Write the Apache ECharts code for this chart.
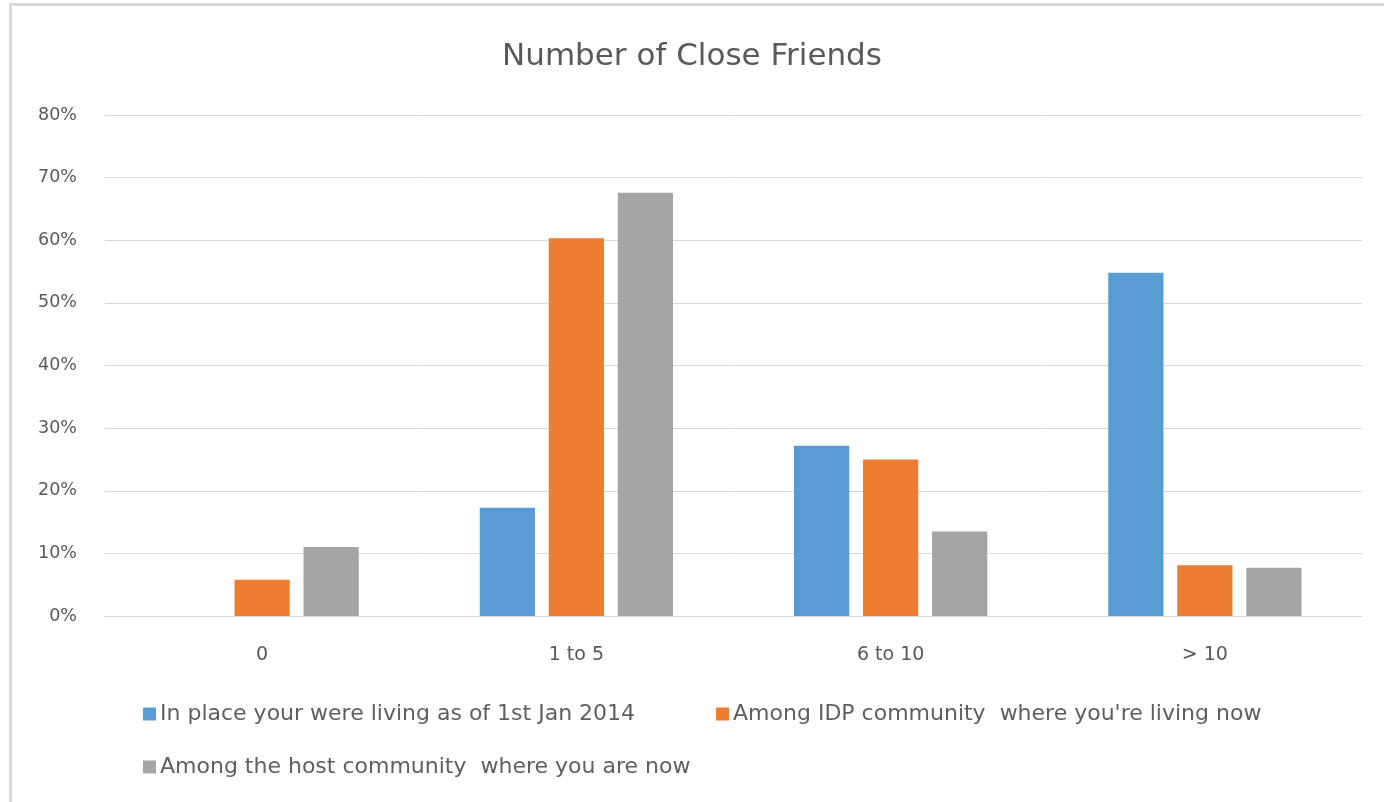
<!DOCTYPE html>
<html>
<head>
<meta charset="utf-8">
<script src="https://cdn.jsdelivr.net/npm/echarts@6/dist/echarts.min.js"></script>
<style>
html,body{margin:0;padding:0;background:#fff;}
#chart{width:1384px;height:802px;}
</style>
</head>
<body>
<div id="chart"></div>
<script>
const categories = ['0', '1 to 5', '6 to 10', '> 10'];
const seriesNames = [
  'In place your were living as of 1st Jan 2014',
  "Among IDP community  where you're living now",
  'Among the host community  where you are now'
];
const placeBefore = [0, 17.3, 27.2, 54.8];
const amongIDP = [5.8, 60.3, 25.0, 8.1];
const amongHost = [11.0, 67.6, 13.5, 7.7];
const colors = ['#5B9BD5', '#ED7D31', '#A5A5A5'];

const font = '"DejaVu Sans", "Open Sans", sans-serif';
const chart = echarts.init(document.getElementById('chart'));
chart.setOption({
  animation: false,
  backgroundColor: '#ffffff',
  title: {
    text: 'Number of Close Friends',
    left: 'center',
    top: 36,
    textStyle: {fontFamily: font, fontSize: 31, fontWeight: 'normal', color: '#595959'}
  },
  legend: [
    {
      data: [seriesNames[0], seriesNames[1]],
      left: 138, top: 698,
      itemWidth: 13, itemHeight: 13, itemGap: 81,
      icon: 'rect',
      textStyle: {fontFamily: font, fontSize: 22, color: '#5f5f5f', padding: [0,0,0,-1]}
    },
    {
      data: [seriesNames[2]],
      left: 138, top: 751,
      itemWidth: 13, itemHeight: 13,
      icon: 'rect',
      textStyle: {fontFamily: font, fontSize: 22, color: '#5f5f5f', padding: [0,0,0,-1]}
    }
  ],
  grid: {left: 105, right: 22, top: 115, bottom: 186},
  xAxis: {
    type: 'category',
    data: categories,
    axisLine: {show: true, lineStyle: {color: '#D9D9D9', width: 1}},
    axisTick: {show: false},
    axisLabel: {fontFamily: font, fontSize: 19, color: '#595959', margin: 30}
  },
  yAxis: {
    type: 'value',
    min: 0, max: 80, interval: 10,
    axisLine: {show: false},
    axisTick: {show: false},
    splitLine: {lineStyle: {color: '#D9D9D9', width: 1}},
    axisLabel: {formatter: '{value}%', fontFamily: font, fontSize: 17.5, color: '#595959', margin: 28}
  },
  series: [
    {name: seriesNames[0], type: 'bar', data: placeBefore, itemStyle: {color: colors[0]}, barGap: '25%', barCategoryGap: '38.5%'},
    {name: seriesNames[1], type: 'bar', data: amongIDP, itemStyle: {color: colors[1]}, barGap: '25%', barCategoryGap: '38.5%'},
    {name: seriesNames[2], type: 'bar', data: amongHost, itemStyle: {color: colors[2]}, barGap: '25%', barCategoryGap: '38.5%'}
  ],
  graphic: [
    {type: 'line', shape: {x1: 10.5, y1: 4, x2: 10.5, y2: 802}, style: {stroke: '#D9D9D9', lineWidth: 3}, silent: true},
    {type: 'line', shape: {x1: 9, y1: 4.5, x2: 1384, y2: 4.5}, style: {stroke: '#D9D9D9', lineWidth: 3}, silent: true}
  ]
});
</script>
</body>
</html>
